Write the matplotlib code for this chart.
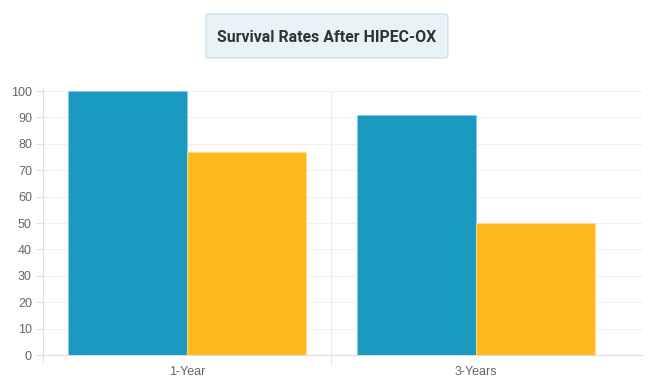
import matplotlib.pyplot as plt
from matplotlib.patches import FancyBboxPatch
import numpy as np

# datos
categorias = ["1-Year", "3-Years"]
serie_a = [100, 91]
serie_b = [77, 50]
colores = ["#1a99c1", "#ffb91d"]
yticks = list(range(0, 101, 10))

fig = plt.figure(figsize=(6.55, 3.9), dpi=100)
ax = fig.add_axes([43/655, 35/390, 600/655, 264/390])

x = np.arange(len(categorias))
ancho = 0.412
ax.bar(x - ancho/2, serie_a, width=ancho, color=colores[0], edgecolor="#8ccbe0", linewidth=0.6, zorder=3)
ax.bar(x + ancho/2, serie_b, width=ancho, color=colores[1], edgecolor="#ffdc8e", linewidth=0.6, zorder=3)

ax.set_xlim(-0.498, 1.578)
ax.set_ylim(0, 100)
ax.set_yticks(yticks)
ax.set_xticks(x)
ax.set_xticklabels(categorias)
ax.set_xticks([0.5], minor=True)

ax.grid(axis="y", color="#f0f0f0", linewidth=0.8, zorder=0)
ax.grid(axis="x", which="minor", color="#ebebeb", linewidth=0.8, zorder=0)

for s in ["top", "right"]:
    ax.spines[s].set_visible(False)
ax.spines["left"].set_color("#dddddd")
ax.spines["bottom"].set_color("#dddddd")
ax.spines["left"].set_bounds(-2.6, 101)

ax.tick_params(axis="y", length=5, color="#dddddd", labelcolor="#666666", labelsize=9, pad=3)
ax.tick_params(axis="x", which="major", length=0, labelcolor="#666666", labelsize=9, pad=8)
ax.tick_params(axis="x", which="minor", length=7, color="#dddddd")
for t in ax.get_xticklabels() + ax.get_yticklabels():
    t.set_fontfamily("Liberation Sans")

caja = FancyBboxPatch((206/655, 1 - 58/390), 242/655, 44/390,
                      boxstyle="round,pad=0,rounding_size=0.006",
                      transform=fig.transFigure, facecolor="#e8f3f7",
                      edgecolor="#bfdfea", linewidth=0.8)
fig.patches.append(caja)
fig.text(327/655, 1 - 37/390, "Survival Rates After HIPEC-OX", ha="center", va="center",
         fontsize=11.4, fontweight="bold", color="#333333", family="Roboto")

fig.savefig("out.png", dpi=100)
